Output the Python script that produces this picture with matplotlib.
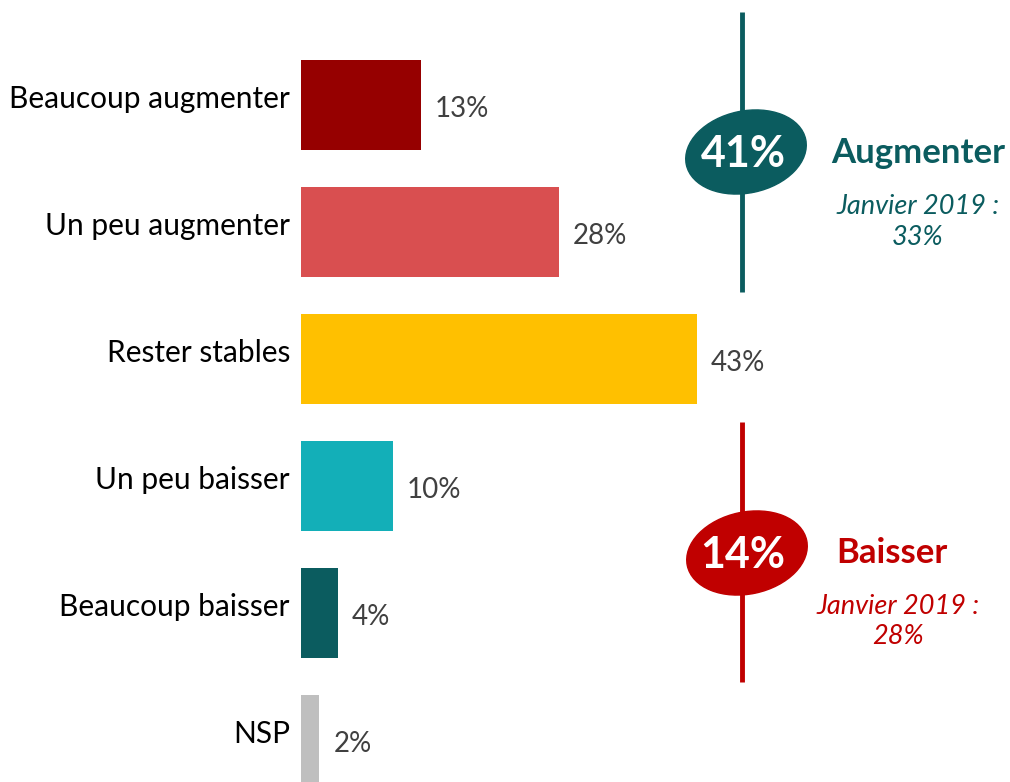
import matplotlib
matplotlib.use("Agg")
import matplotlib.pyplot as plt
from matplotlib.patches import Ellipse

plt.rcParams['font.family'] = ['Lato', 'DejaVu Sans']

# data
categories = ["Beaucoup augmenter", "Un peu augmenter", "Rester stables",
              "Un peu baisser", "Beaucoup baisser", "NSP"]
values = [13, 28, 43, 10, 4, 2]
colors = ["#960000", "#D94F50", "#FFC000", "#13AFB8", "#0B5C5F", "#BFBFBF"]

up_total = "41%"
down_total = "14%"
up_prev = "Janvier 2019 :\n33%"
down_prev = "Janvier 2019 :\n28%"

W, H = 1010, 782
fig = plt.figure(figsize=(W / 100, H / 100), dpi=100)

# bar axes: x in percent, starts at pixel 301, ~9.2 px per point
ax_left = 301 / W
ax_w = 9.2 * 50 / W
ax = fig.add_axes([ax_left, 0, ax_w, 1])
y_pos = list(range(len(categories)))
ax.barh(y_pos, values, height=90 / 127, color=colors)
ax.set_xlim(0, 50)
ax.set_ylim(5.331, -0.827)
ax.axis('off')

for y, v, lab in zip(y_pos, values, categories):
    ax.annotate(f"{v}%", (v, y + 0.03), xytext=(10, 0), textcoords='offset points',
                ha='left', va='center', fontsize=20, color='#404040')
    ax.annotate(lab, (0, y - 0.05), xytext=(-8, 0), textcoords='offset points',
                ha='right', va='center', fontsize=21.5, color='black')

# overlay for the summary boxes (pixel coords)
ov = fig.add_axes([0, 0, 1, 1])
ov.set_xlim(0, W)
ov.set_ylim(H, 0)
ov.axis('off')

teal = "#0B5C5F"
red = "#C00000"

ov.plot([742, 742], [12, 292], color=teal, lw=3.5, solid_capstyle='butt')
ov.add_patch(Ellipse((746, 152), 122, 82, angle=-12, color=teal))
ov.text(743, 154, up_total, ha='center', va='center', fontsize=31,
        fontweight='bold', color='white')
ov.text(918, 153, "Augmenter", ha='center', va='center', fontsize=25,
        fontweight='bold', color=teal)
ov.text(918, 222, up_prev, ha='center', va='center', fontsize=19.5,
        style='italic', color=teal, linespacing=1.3)

ov.plot([742, 742], [422, 682], color=red, lw=3.5, solid_capstyle='butt')
ov.add_patch(Ellipse((747, 553), 122, 82, angle=-12, color=red))
ov.text(743, 555, down_total, ha='center', va='center', fontsize=31,
        fontweight='bold', color='white')
ov.text(892, 553, "Baisser", ha='center', va='center', fontsize=25,
        fontweight='bold', color=red)
ov.text(898, 621, down_prev, ha='center', va='center', fontsize=19.5,
        style='italic', color=red, linespacing=1.25)

fig.savefig("out.png", dpi=100)
